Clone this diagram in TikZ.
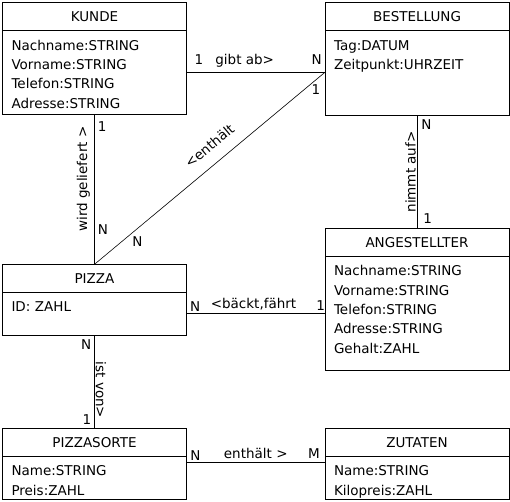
\documentclass[tikz,border=0pt]{standalone}
\usepackage{fontspec}
\setmainfont{DejaVu Sans}
\usetikzlibrary{positioning}
\newcommand\erfont{\fontsize{13.5}{19.3}\selectfont}
\tikzset{
  ent/.style={draw,minimum width=184pt,minimum height=27.8pt,inner sep=0pt,outer sep=0pt,anchor=north west,font=\erfont,text height=9.8pt,text depth=0pt},
  attr/.style={draw,inner xsep=9pt,inner ysep=0pt,outer sep=0pt,text width=166pt,align=left,font=\erfont,text height=19.7pt,text depth=#1},
  lbl/.style={font=\erfont,inner sep=1pt,text height=9.5pt,text depth=0pt}
}
\begin{document}
\begin{tikzpicture}[x=1pt,y=-1pt,line width=0.6pt]
\useasboundingbox (0,0) rectangle (510,501);
\node[ent] (kunde) at (2.5,2.7) {KUNDE};
\node[attr=63.8pt,below=0pt of kunde] (kundeA) {Nachname:STRING\\Vorname:STRING\\Telefon:STRING\\Adresse:STRING};
\node[ent] (best) at (325,2.7) {BESTELLUNG};
\node[attr=64.8pt,below=0pt of best] (bestA) {Tag:DATUM\\Zeitpunkt:UHRZEIT};
\node[ent] (ang) at (325,228.3) {ANGESTELLTER};
\node[attr=94.9pt,below=0pt of ang] (angA) {Nachname:STRING\\Vorname:STRING\\Telefon:STRING\\Adresse:STRING\\Gehalt:ZAHL};
\node[ent] (pizza) at (2.5,264.3) {PIZZA};
\node[attr=23.2pt,below=0pt of pizza] (pizzaA) {ID: ZAHL};
\node[ent] (sorte) at (2.5,428.3) {PIZZASORTE};
\node[attr=23.3pt,below=0pt of sorte] (sorteA) {Name:STRING\\Preis:ZAHL};
\node[ent] (zutat) at (325,428.3) {ZUTATEN};
\node[attr=23.3pt,below=0pt of zutat] (zutatA) {Name:STRING\\Kilopreis:ZAHL};
\coordinate (kb) at (kundeA.east -| bestA.west);
\coordinate (sz) at ([yshift=-6.6pt]sorteA.north east);
\draw (kundeA.east) -- (kb)
  node[lbl,pos=0.09,above=6pt] (gibt1) {1}
  node[lbl,pos=0.42,above=6pt] (gibt) {gibt ab>}
  node[lbl,pos=0.94,above=6pt] (gibtN) {N};
\draw (pizza.north) -- (kb)
  node[lbl,pos=0.12,right=9pt] (enthN) {N}
  node[lbl,pos=0.547,sloped,above=11pt] (enth) {<enthält}
  node[lbl,pos=0.91,right=6pt] (enth1) {1};
\draw (pizza.north) -- (kundeA.south)
  node[lbl,pos=0.23,right=2pt] (liefN) {N}
  node[lbl,pos=0.567,sloped,allow upside down,above=6pt] (lief) {wird geliefert >}
  node[lbl,pos=0.917,right=2pt] (lief1) {1};
\draw (ang.north) -- (bestA.south)
  node[lbl,pos=0.082,right=5pt] (nimm1) {1}
  node[lbl,pos=0.497,sloped,allow upside down,above=0pt] (nimm) {nimmt auf>}
  node[lbl,pos=0.912,right=3pt] (nimmN) {N};
\draw (pizzaA.east) -- (pizzaA.east -| angA.west)
  node[lbl,pos=0.063,above=1pt] (backN) {N}
  node[lbl,pos=0.484,above=4pt] (back) {<bäckt,fährt}
  node[lbl,pos=0.968,above=2pt] (back1) {1};
\draw (pizzaA.south) -- (sorte.north)
  node[lbl,pos=0.107,left=2pt] (istN) {N}
  node[lbl,pos=0.59,sloped,allow upside down,above=0pt] (ist) {ist von>}
  node[lbl,pos=0.906,left=2pt] (ist1) {1};
\draw (sz) -- (sz -| zutatA.west)
  node[lbl,pos=0.065,above=1pt] (zutN) {N}
  node[lbl,pos=0.5,above=2.5pt] (zut) {enthält >}
  node[lbl,pos=0.92,above=2.5pt] (zutM) {M};
\end{tikzpicture}
\end{document}
